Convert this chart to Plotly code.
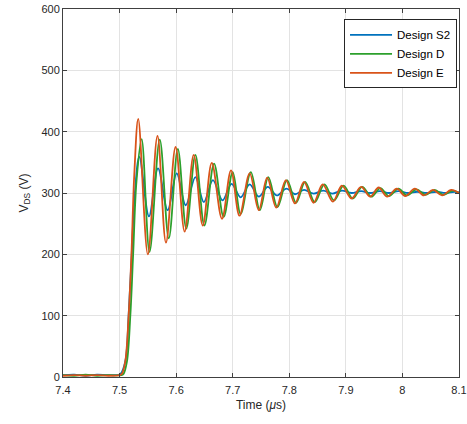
import plotly.graph_objects as go

# ---- data (time in µs, voltage in V) ----
t_s2 = [7.400, 7.420, 7.440, 7.460, 7.480, 7.500, 7.504, 7.511, 7.516, 7.521, 7.527, 7.535,
        7.552, 7.568, 7.585, 7.601, 7.617, 7.634, 7.649, 7.665, 7.682, 7.698, 7.714, 7.730,
        7.746, 7.762, 7.778, 7.795, 7.810, 7.826, 7.843, 7.860, 7.876, 7.893, 7.910, 7.927,
        7.943, 7.960, 7.976, 7.993, 8.010, 8.026, 8.043, 8.060, 8.076, 8.092, 8.100]
v_s2 = [3, 4, 2, 4, 3, 4, 8, 30, 100, 190, 300, 359,
        262, 340, 272, 332, 280, 326, 285, 321, 288, 315, 293, 314,
        294, 310, 296, 307, 298, 305, 299, 304, 299, 304, 300, 303,
        300, 303, 300, 303, 300, 302, 300, 302, 300, 302, 301]

t_d = [7.400, 7.420, 7.440, 7.460, 7.480, 7.503, 7.507, 7.513, 7.519, 7.524, 7.530, 7.539,
       7.553, 7.571, 7.587, 7.603, 7.618, 7.634, 7.650, 7.667, 7.684, 7.700, 7.714, 7.732,
       7.748, 7.763, 7.779, 7.796, 7.812, 7.828, 7.845, 7.862, 7.879, 7.896, 7.912, 7.929,
       7.945, 7.961, 7.976, 7.993, 8.008, 8.025, 8.041, 8.057, 8.073, 8.089, 8.100]
v_d = [3, 2, 4, 2, 3, 3, 5, 25, 100, 200, 320, 388,
       204, 387, 226, 372, 242, 362, 247, 348, 261, 334, 266, 334,
       272, 326, 277, 321, 284, 318, 285, 314, 288, 312, 291, 310,
       294, 308, 295, 307, 296, 306, 297, 305, 297, 304, 300]

t_e = [7.400, 7.420, 7.440, 7.460, 7.480, 7.500, 7.504, 7.510, 7.516, 7.521, 7.526, 7.533,
       7.550, 7.567, 7.582, 7.599, 7.615, 7.631, 7.647, 7.663, 7.681, 7.697, 7.712, 7.730,
       7.746, 7.761, 7.777, 7.794, 7.810, 7.826, 7.843, 7.859, 7.877, 7.893, 7.910, 7.927,
       7.943, 7.958, 7.973, 7.990, 8.005, 8.022, 8.038, 8.054, 8.070, 8.086, 8.100]
v_e = [2, 3, 2, 3, 2, 3, 5, 25, 100, 200, 330, 421,
       200, 393, 219, 375, 237, 362, 247, 349, 258, 337, 263, 332,
       272, 325, 276, 321, 283, 318, 284, 314, 286, 312, 291, 310,
       294, 309, 294, 307, 295, 307, 296, 305, 296, 305, 300]

series_names = ["Design S2", "Design D", "Design E"]
x_tick_vals = [7.4, 7.5, 7.6, 7.7, 7.8, 7.9, 8.0, 8.1]
x_tick_text = ["7.4", "7.5", "7.6", "7.7", "7.8", "7.9", "8", "8.1"]
y_tick_vals = [0, 100, 200, 300, 400, 500, 600]

colors = ["#0072BD", "#2CA02C", "#D95319"]

fig = go.Figure()
for name, tx, vy, c in zip(series_names, [t_s2, t_d, t_e], [v_s2, v_d, v_e], colors):
    fig.add_trace(go.Scatter(x=tx, y=vy, mode="lines", name=name,
                             line=dict(color=c, width=1.8, shape="spline", smoothing=1.0)))

axis_common = dict(showline=True, linecolor="#404040", linewidth=1, mirror="ticks",
                   ticks="inside", ticklen=4, tickcolor="#404040",
                   showgrid=True, gridcolor="#e3e3e3", gridwidth=1, zeroline=False,
                   ticklabeloverflow="allow", automargin=False,
                   tickfont=dict(family="Liberation Sans, Arial, sans-serif", size=11, color="#262626"))

fig.update_layout(
    width=467, height=424,
    margin=dict(l=63, r=8, t=9, b=47, autoexpand=False),
    paper_bgcolor="white", plot_bgcolor="white",
    font=dict(family="Liberation Sans, Arial, sans-serif", size=11, color="#262626"),
    xaxis=dict(range=[7.4, 8.1], tickvals=x_tick_vals, ticktext=x_tick_text,
               ticklabelstandoff=3,
               title=dict(text="Time (<i>μ</i>s)", font=dict(size=12), standoff=5), **axis_common),
    yaxis=dict(range=[0, 600], tickvals=y_tick_vals,
               title=dict(text="V<sub>DS</sub> (V)", font=dict(size=12), standoff=10), **axis_common),
    legend=dict(x=0.995, y=0.972, xanchor="right", yanchor="top",
                bgcolor="white", bordercolor="#262626", borderwidth=1,
                itemwidth=42,
                font=dict(size=11.5, color="#000000"), tracegroupgap=0),
    showlegend=True,
)
# keep the 8.1 tick label at the exact axis end
fig.update_xaxes(range=[7.4, 8.1 + 1e-9])

fig.write_html("out.html")
